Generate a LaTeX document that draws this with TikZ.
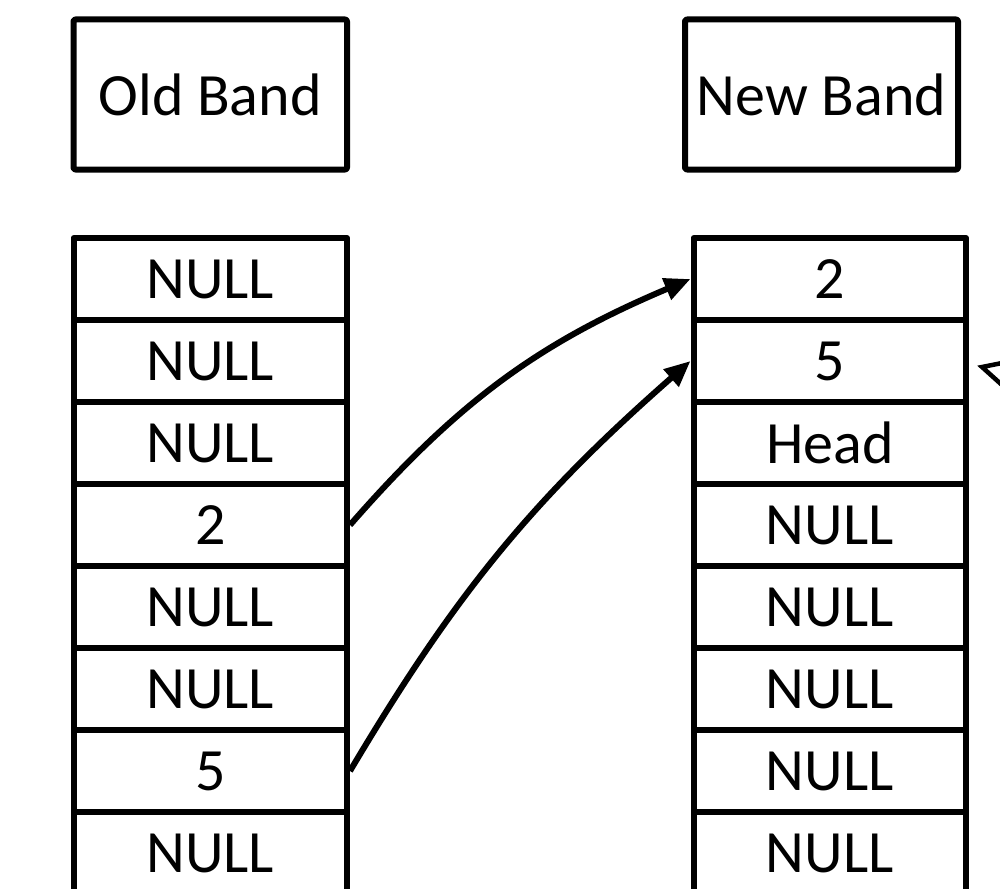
\documentclass[tikz,border=0pt]{standalone}
\usepackage{fontspec}
\setmainfont{Carlito}
\usetikzlibrary{arrows.meta}
\begin{document}
\begin{tikzpicture}[x=1pt,y=-1pt,
  line join=round,
  cellfont/.style={font=\fontsize{60}{62}\selectfont},
  cell/.style={draw, line width=6pt, minimum height=82pt, inner sep=0pt, cellfont},
  oldcell/.style={cell, minimum width=273.5pt},
  newcell/.style={cell, minimum width=272.5pt},
  title/.style={draw, line width=6pt, rounded corners=2pt, minimum height=150pt, inner sep=0pt, cellfont},
  link/.style={line width=6pt, -{Triangle[length=26pt,width=22pt]}}]
\useasboundingbox (0,0) rectangle (1000,888);
\clip (0,0) rectangle (1000,888);

% column headings
\node[title, minimum width=273.5pt] (oldtitle) at (210.25,94.5) {Old Band};
\node[title, minimum width=273pt] (newtitle) at (821.5,94.5) {New Band};

% old band slots
\foreach \i/\t in {1/NULL,2/NULL,3/NULL,4/2,5/NULL,6/NULL,7/5,8/NULL}
  \node[oldcell] (o\i) at (210.25,{238+41+82*(\i-1)}) {\t};

% new band slots
\foreach \i/\t in {1/2,2/5,3/Head,4/NULL,5/NULL,6/NULL,7/NULL,8/NULL}
  \node[newcell] (n\i) at (829.75,{238+41+82*(\i-1)}) {\t};

% moved entries
\draw[link] (o4.east) to[bend left=13] (n1.west);
\draw[link] (o7.east) to[bend left=9] (n2.west);

% pointer arriving at the right edge
\coordinate (ptr) at (982,367);
\draw[line width=4.5pt, line join=miter] (1012,361) -- (ptr) -- (1012,394);
\end{tikzpicture}
\end{document}
